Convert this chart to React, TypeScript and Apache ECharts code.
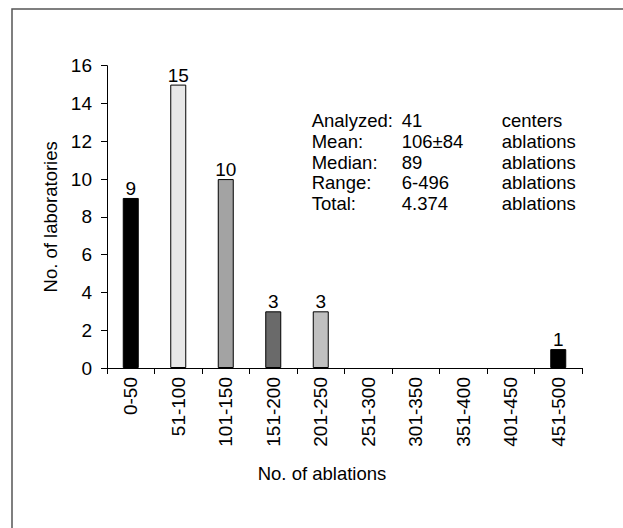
import React, { useEffect, useRef } from "react";
import * as echarts from "echarts";

const categories = ["0-50", "51-100", "101-150", "151-200", "201-250", "251-300", "301-350", "351-400", "401-450", "451-500"];
const counts = [9, 15, 10, 3, 3, 0, 0, 0, 0, 1];
const barColors = ["#000000", "#e8e8e8", "#a3a3a3", "#6a6a6a", "#c0c0c0", "#ffffff", "#ffffff", "#ffffff", "#ffffff", "#000000"];
const yTicks = { min: 0, max: 16, interval: 2 };
const statLabels = ["Analyzed:", "Mean:", "Median:", "Range:", "Total:"];
const statValues = ["41", "106\u00b184", "89", "6-496", "4.374"];
const statUnits = ["centers", "ablations", "ablations", "ablations", "ablations"];

const FONT = "'Liberation Sans', Arial, Helvetica, sans-serif";

export default function App() {
  const ref = useRef<HTMLDivElement>(null);
  useEffect(() => {
    if (!ref.current) return;
    const chart = echarts.init(ref.current, null, { renderer: "svg" });
    const colText = (x: number, lines: string[]) => ({
      type: "text",
      left: x,
      top: 110,
      style: {
        text: lines.join("\n"),
        fontSize: 18.5,
        fontFamily: FONT,
        lineHeight: 20.8,
        fill: "#000",
      },
    });
    chart.setOption({
      animation: false,
      backgroundColor: "#ffffff",
      textStyle: { fontFamily: FONT },
      grid: { left: 107, right: 41, top: 65.7, bottom: 160, containLabel: false },
      xAxis: {
        type: "category",
        data: categories,
        boundaryGap: true,
        axisLine: { lineStyle: { color: "#000", width: 1 } },
        axisTick: { show: true, length: 6, lineStyle: { color: "#000" } },
        axisLabel: { rotate: 90, fontSize: 19, color: "#000", margin: 9, fontFamily: FONT, interval: 0 },
        name: "No. of ablations",
        nameLocation: "middle",
        nameGap: 96,
        nameTextStyle: { fontSize: 18.5, color: "#000", fontFamily: FONT, padding: [0, 45, 0, 0] },
      },
      yAxis: {
        type: "value",
        min: yTicks.min,
        max: yTicks.max,
        interval: yTicks.interval,
        splitLine: { show: false },
        axisLine: { show: true, lineStyle: { color: "#000", width: 1 } },
        axisTick: { show: true, length: 6, lineStyle: { color: "#000" } },
        axisLabel: { fontSize: 19, color: "#000", margin: 15, fontFamily: FONT },
        name: "No. of laboratories",
        nameLocation: "middle",
        nameGap: 38,
        nameTextStyle: { fontSize: 18.5, color: "#000", fontFamily: FONT },
      },
      series: [
        {
          type: "bar",
          barWidth: 16,
          data: counts.map((v, i) => ({
            value: v,
            itemStyle: { color: barColors[i], borderColor: "#000", borderWidth: v === 0 ? 0 : 1 },
            label: { show: v !== 0 },
          })),
          label: {
            show: true,
            position: "top",
            distance: 0,
            fontSize: 19,
            color: "#000",
            fontFamily: FONT,
          },
        },
      ],
      graphic: [
        {
          type: "rect",
          shape: { x: 12, y: 9, width: 800, height: 700 },
          style: { fill: "none", stroke: "#555", lineWidth: 1.5 },
          silent: true,
        },
        colText(311.7, statLabels),
        colText(401.7, statValues),
        colText(501.7, statUnits),
      ],
    });
    return () => chart.dispose();
  }, []);
  return (
    <div
      ref={ref}
      style={{ position: "fixed", left: 0, top: 0, width: 623, height: 528, background: "#fff" }}
    />
  );
}
